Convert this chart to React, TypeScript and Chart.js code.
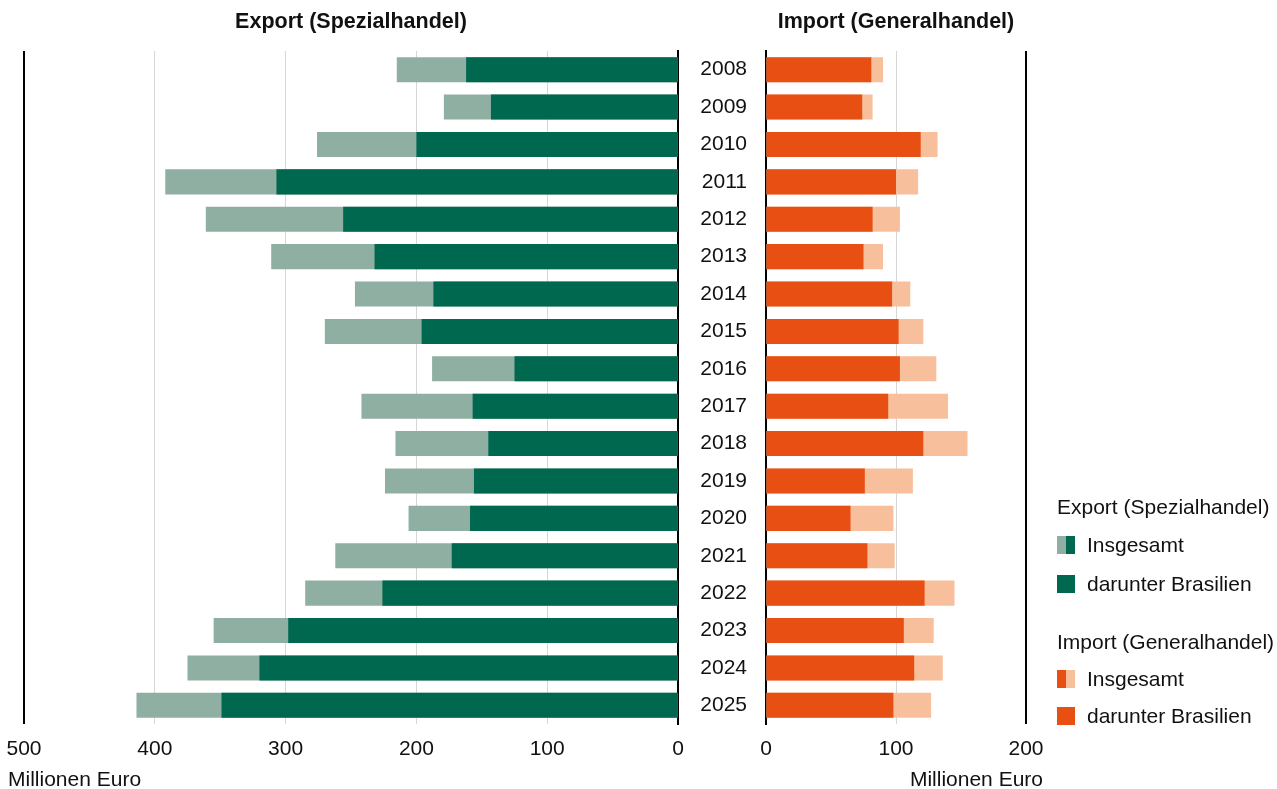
import React, { useEffect, useRef } from "react";
import { Chart, registerables } from "chart.js";
Chart.register(...registerables);

const years = ["2008", "2009", "2010", "2011", "2012", "2013", "2014", "2015", "2016", "2017", "2018", "2019", "2020", "2021", "2022", "2023", "2024", "2025"];
const exportTotal = [215, 179, 276, 392, 361, 311, 247, 270, 188, 242, 216, 224, 206, 262, 285, 355, 375, 414];
const exportBrazil = [162, 143, 200, 307, 256, 232, 187, 196, 125, 157, 145, 156, 159, 173, 226, 298, 320, 349];
const importTotal = [90, 82, 132, 117, 103, 90, 111, 121, 131, 140, 155, 113, 98, 99, 145, 129, 136, 127];
const importBrazil = [81, 74, 119, 100, 82, 75, 97, 102, 103, 94, 121, 76, 65, 78, 122, 106, 114, 98];
const exportTicks = [0, 100, 200, 300, 400, 500];
const importTicks = [0, 100, 200];

const FONT = "'Liberation Sans', Arial, Helvetica, sans-serif";
const FS = 21;
const TEXT = "#111";
const DARK_GREEN = "#00684f";
const LIGHT_GREEN = "#8fafa2";
const DARK_ORANGE = "#e84f12";
const LIGHT_ORANGE = "#f8bf9d";
const GRID = "#d6d6d6";

function gridColor(edge: number) {
  return (ctx: any) => {
    const v = ctx.tick ? ctx.tick.value : null;
    if (v === edge) return "#000";
    if (v === 0) return "rgba(0,0,0,0)";
    return GRID;
  };
}
function gridWidth(edge: number) {
  return (ctx: any) => (ctx.tick && ctx.tick.value === edge ? 2 : 1);
}

export default function App() {
  const leftRef = useRef<HTMLCanvasElement>(null);
  const rightRef = useRef<HTMLCanvasElement>(null);

  useEffect(() => {
    const common = { barPercentage: 0.67, categoryPercentage: 1, grouped: false };
    const left = new Chart(leftRef.current!, {
      type: "bar",
      data: {
        labels: years,
        datasets: [
          { label: "darunter Brasilien", data: exportBrazil, backgroundColor: DARK_GREEN, order: 0, ...common },
          { label: "Insgesamt", data: exportTotal, backgroundColor: LIGHT_GREEN, order: 1, ...common },
        ],
      } as any,
      options: {
        indexAxis: "y",
        animation: false,
        responsive: false,
        maintainAspectRatio: false,
        layout: { padding: { left: 24, right: 12, top: 51, bottom: 0 } },
        plugins: { legend: { display: false }, tooltip: { enabled: false }, title: { display: false } },
        scales: {
          x: {
            type: "linear",
            min: 0,
            max: 500,
            reverse: true,
            afterBuildTicks: (s: any) => {
              s.ticks = exportTicks.map((v) => ({ value: v }));
            },
            ticks: { font: { family: FONT, size: FS }, color: TEXT, padding: 13, maxRotation: 0, autoSkip: false },
            grid: { color: gridColor(500), lineWidth: gridWidth(500), drawTicks: false },
            border: { display: false },
            afterFit: (s: any) => {
              s.height = 65;
            },
          },
          y: {
            position: "right",
            ticks: { display: false },
            grid: { display: false, drawTicks: false },
            border: { display: true, color: "#000", width: 2 },
            afterFit: (s: any) => {
              s.width = 0;
            },
          },
        },
      } as any,
    });

    const right = new Chart(rightRef.current!, {
      type: "bar",
      data: {
        labels: years,
        datasets: [
          { label: "darunter Brasilien", data: importBrazil, backgroundColor: DARK_ORANGE, order: 0, ...common },
          { label: "Insgesamt", data: importTotal, backgroundColor: LIGHT_ORANGE, order: 1, ...common },
        ],
      } as any,
      options: {
        indexAxis: "y",
        animation: false,
        responsive: false,
        maintainAspectRatio: false,
        layout: { padding: { left: 0, right: 34, top: 51, bottom: 0 } },
        plugins: { legend: { display: false }, tooltip: { enabled: false }, title: { display: false } },
        scales: {
          x: {
            type: "linear",
            min: 0,
            max: 200,
            afterBuildTicks: (s: any) => {
              s.ticks = importTicks.map((v) => ({ value: v }));
            },
            ticks: { font: { family: FONT, size: FS }, color: TEXT, padding: 13, maxRotation: 0, autoSkip: false },
            grid: { color: gridColor(200), lineWidth: gridWidth(200), drawTicks: false },
            border: { display: false },
            afterFit: (s: any) => {
              s.height = 65;
            },
          },
          y: {
            position: "left",
            ticks: { font: { family: FONT, size: FS }, color: TEXT, padding: 19 },
            grid: { display: false, drawTicks: false },
            border: { display: true, color: "#000", width: 2 },
            afterFit: (s: any) => {
              s.width = 86;
            },
          },
        },
      } as any,
    });

    return () => {
      left.destroy();
      right.destroy();
    };
  }, []);

  const txt: React.CSSProperties = {
    position: "absolute",
    fontFamily: FONT,
    fontSize: FS,
    color: TEXT,
    whiteSpace: "nowrap",
    lineHeight: "24px",
  };
  const sw = (l: string, r: string, top: number): React.ReactNode => (
    <div style={{ position: "absolute", left: 1057, top, width: 18, height: 18, display: "flex" }}>
      <div style={{ width: 9, height: 18, background: l }} />
      <div style={{ width: 9, height: 18, background: r }} />
    </div>
  );

  return (
    <div style={{ position: "fixed", left: 0, top: 0, width: 1277, height: 789, background: "#fff" }}>
      <canvas ref={leftRef} width={690} height={789} style={{ position: "absolute", left: 0, top: 0, width: 690, height: 789 }} />
      <canvas ref={rightRef} width={380} height={789} style={{ position: "absolute", left: 680, top: 0, width: 380, height: 789 }} />

      <div style={{ ...txt, fontWeight: "bold", fontSize: 21.5, left: 151, width: 400, textAlign: "center", top: 9 }}>Export (Spezialhandel)</div>
      <div style={{ ...txt, fontWeight: "bold", fontSize: 21.5, left: 696, width: 400, textAlign: "center", top: 9 }}>Import (Generalhandel)</div>

      <div style={{ ...txt, left: 8, top: 767 }}>Millionen Euro</div>
      <div style={{ ...txt, left: 843, width: 200, textAlign: "right", top: 767 }}>Millionen Euro</div>

      <div style={{ ...txt, left: 1057, top: 495 }}>Export (Spezialhandel)</div>
      {sw(LIGHT_GREEN, DARK_GREEN, 536)}
      <div style={{ ...txt, left: 1087, top: 533 }}>Insgesamt</div>
      {sw(DARK_GREEN, DARK_GREEN, 575)}
      <div style={{ ...txt, left: 1087, top: 572 }}>darunter Brasilien</div>

      <div style={{ ...txt, left: 1057, top: 630 }}>Import (Generalhandel)</div>
      {sw(DARK_ORANGE, LIGHT_ORANGE, 670)}
      <div style={{ ...txt, left: 1087, top: 667 }}>Insgesamt</div>
      {sw(DARK_ORANGE, DARK_ORANGE, 707)}
      <div style={{ ...txt, left: 1087, top: 704 }}>darunter Brasilien</div>
    </div>
  );
}
